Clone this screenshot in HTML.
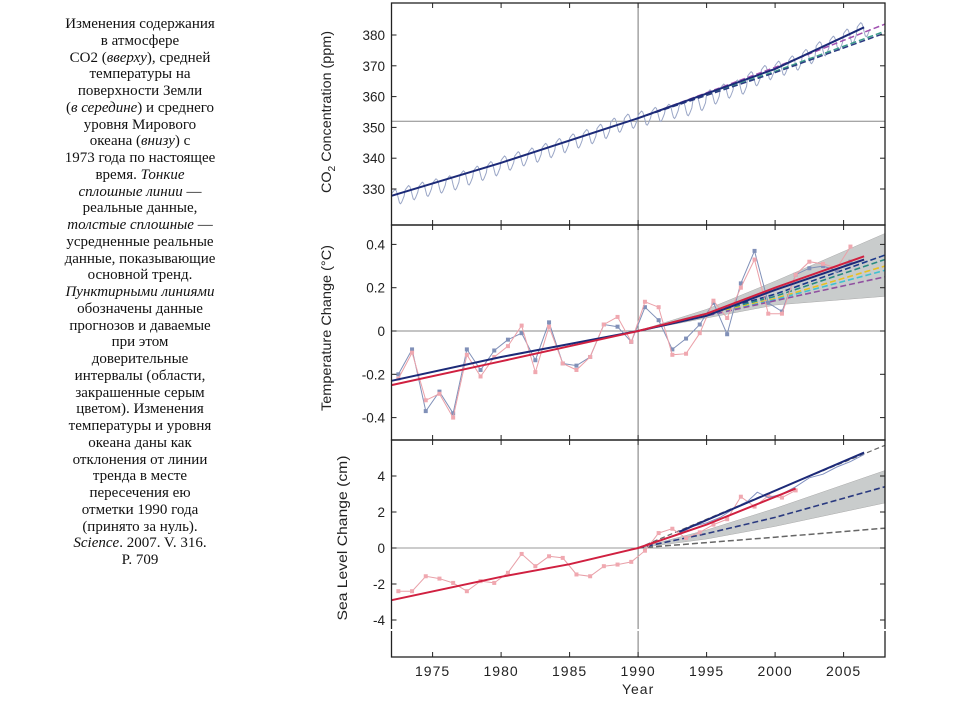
<!DOCTYPE html>
<html><head><meta charset="utf-8">
<style>
html,body{margin:0;padding:0;background:#fff;width:960px;height:720px;overflow:hidden}
#caption{position:absolute;left:30px;top:16px;width:220px;text-align:center;font-family:"Liberation Serif",serif;font-size:15px;line-height:16.75px;color:#111}
#chart{position:absolute;left:0;top:0}
</style></head><body>
<div id="caption">Изменения содержания<br>в атмосфере<br>CO2 (<i>вверху</i>), средней<br>температуры на<br>поверхности Земли<br>(<i>в середине</i>) и среднего<br>уровня Мирового<br>океана (<i>внизу</i>) с<br>1973 года по настоящее<br>время. <i>Тонкие</i><br><i>сплошные линии</i> —<br>реальные данные,<br><i>толстые сплошные</i> —<br>усредненные реальные<br>данные, показывающие<br>основной тренд.<br><i>Пунктирными линиями</i><br>обозначены данные<br>прогнозов и даваемые<br>при этом<br>доверительные<br>интервалы (области,<br>закрашенные серым<br>цветом). Изменения<br>температуры и уровня<br>океана даны как<br>отклонения от линии<br>тренда в месте<br>пересечения ею<br>отметки 1990 года<br>(принято за нуль).<br><i>Science</i>. 2007. V. 316.<br>P. 709</div>
<svg id="chart" width="960" height="720" xmlns="http://www.w3.org/2000/svg"></svg>
<script>
// ---------- data ----------
const xTickYears=[1975,1980,1985,1990,1995,2000,2005];
const co2Ticks=[330,340,350,360,370,380];
const tempTicks=[-0.4,-0.2,0,0.2,0.4];
const tempTickLabels=["-0.4","-0.2","0","0.2","0.4"];
const seaTicks=[-4,-2,0,2,4];
const co2Years=[1972,1973,1974,1975,1976,1977,1978,1979,1980,1981,1982,1983,1984,1985,1986,1987,1988,1989,1990,1991,1992,1993,1994,1995,1996,1997,1998,1999,2000,2001,2002,2003,2004,2005,2006];
const co2Annual=[327.5,328.8,329.9,331.0,332.0,333.6,335.1,336.6,338.4,339.8,341.0,342.5,344.1,345.6,347.0,348.7,350.7,352.0,353.0,354.2,355.2,356.1,357.8,359.9,361.8,363.1,365.8,367.8,369.2,370.9,373.0,375.5,377.3,379.6,381.7];
const co2Seasonal=[0.9,1.4,1.9,2.3,2.0,1.0,-0.6,-2.0,-2.3,-1.7,-0.8,0.2];
const co2TrendYears=[1972,1980,1990,2000,2006.5];
const co2Trend=[327.8,338.5,353,369,382.5];
const co2ProjYears=[1990,2000,2008];
const co2ProjA=[353,369.5,383.5];
const co2ProjB=[353,368.2,381.2];
const co2ProjC=[353,367.8,380.6];

const tempYears=[1972.5,1973.5,1974.5,1975.5,1976.5,1977.5,1978.5,1979.5,1980.5,1981.5,1982.5,1983.5,1984.5,1985.5,1986.5,1987.5,1988.5,1989.5,1990.5,1991.5,1992.5,1993.5,1994.5,1995.5,1996.5,1997.5,1998.5,1999.5,2000.5,2001.5,2002.5,2003.5,2004.5,2005.5];
const tempBlue=[-0.2,-0.085,-0.37,-0.28,-0.38,-0.085,-0.18,-0.09,-0.04,-0.01,-0.135,0.04,-0.15,-0.16,-0.12,0.03,0.02,-0.05,0.11,0.05,-0.085,-0.035,0.03,0.13,-0.015,0.22,0.37,0.13,0.09,0.26,0.29,0.3,0.28,0.32];
const tempPink=[-0.22,-0.1,-0.32,-0.29,-0.4,-0.11,-0.21,-0.12,-0.07,0.025,-0.19,0.02,-0.15,-0.18,-0.12,0.03,0.065,-0.05,0.135,0.11,-0.11,-0.105,-0.01,0.14,0.06,0.2,0.33,0.08,0.08,0.26,0.32,0.31,0.29,0.39];
const tempTrendYears=[1972,1980,1990,1995,2000,2006.5];
const tempTrendBlue=[-0.23,-0.12,0,0.07,0.19,0.33];
const tempTrendRed=[-0.25,-0.14,0,0.08,0.2,0.345];
const tempBandYears=[1990,1995,2000,2008];
const tempBandUpper=[0,0.1,0.23,0.45];
const tempBandLower=[0,0.06,0.12,0.16];
const tempProjYears=[1990,1995,2000,2008];
const tempProj1=[0,0.08,0.17,0.35];
const tempProj2=[0,0.08,0.16,0.33];
const tempProj3=[0,0.075,0.15,0.30];
const tempProj4=[0,0.07,0.145,0.28];
const tempProj5=[0,0.07,0.14,0.25];

const seaGaugeYears=[1972.5,1973.5,1974.5,1975.5,1976.5,1977.5,1978.5,1979.5,1980.5,1981.5,1982.5,1983.5,1984.5,1985.5,1986.5,1987.5,1988.5,1989.5,1990.5,1991.5,1992.5,1993.5,1994.5,1995.5,1996.5,1997.5,1998.5,1999.5,2000.5,2001.5];
const seaGauge=[-2.4,-2.4,-1.57,-1.7,-1.94,-2.4,-1.84,-1.94,-1.38,-0.33,-1.01,-0.46,-0.55,-1.47,-1.57,-1.01,-0.92,-0.77,-0.15,0.83,1.07,0.55,0.87,1.3,1.6,2.85,2.3,2.9,2.8,3.2];
const seaSatYears=[1993,1994,1995,1996,1997,1998,1998.7,1999.5,2000.5,2001.5,2002.5,2003.5,2004.5,2005.5,2006.5];
const seaSat=[0.8,1.2,1.4,1.7,2.2,2.6,3.1,2.8,3.0,3.4,3.9,4.1,4.5,4.8,5.2];
const seaTrendRedYears=[1972,1980,1985,1990,1995,2001.5];
const seaTrendRed=[-2.9,-1.6,-0.9,0,1.3,3.3];
const seaTrendBlueYears=[1993,2006.5];
const seaTrendBlue=[0.9,5.3];
const seaProjYears=[1990,1995,2000,2008];
const seaBandUpper=[0,1.0,2.2,4.3];
const seaBandLower=[0,0.5,1.2,2.5];
const seaProjMid=[0,0.8,1.7,3.4];
const seaProjLow=[0,0.3,0.6,1.1];
const seaProjHigh=[0,1.6,3.2,5.7];

// ---------- scales ----------
const L=391.5,R=885;
const X=y=>391.5+(y-1972)*13.7;
const Yc=v=>35+(380-v)*3.08;
const Yt=v=>331-v*216.5;
const Ys=v=>548-v*18;
const svg=document.getElementById('chart');
const NS='http://www.w3.org/2000/svg';
function mk(tag,attrs,parent){const e=document.createElementNS(NS,tag);for(const k in attrs)e.setAttribute(k,attrs[k]);(parent||svg).appendChild(e);return e;}
function pts(xs,vs,Y){return xs.map((x,i)=>X(x).toFixed(1)+','+Y(vs[i]).toFixed(1)).join(' ');}
function line(xs,vs,Y,st,name){const e=mk('polyline',{points:pts(xs,vs,Y),fill:'none',...st});

return e;}
function band(xs,up,lo,Y,name){const p=xs.map((x,i)=>X(x)+','+Y(up[i])).concat(xs.slice().reverse().map((x,i)=>X(x)+','+Y(lo[lo.length-1-i])));
const e=mk('polygon',{points:p.join(' '),fill:'#c9cccc',stroke:'#aaa','stroke-width':0.5});

}
function markers(xs,vs,Y,col,name){xs.forEach((x,i)=>{const r=mk('rect',{x:X(x)-2,y:Y(vs[i])-2,width:4,height:4,fill:col});

});}

const panels=[[3,225],[225,440],[440,657]];
mk('line',{x1:X(1990),y1:3,x2:X(1990),y2:657,stroke:'#777','stroke-width':1});
mk('line',{x1:L,y1:Yc(352),x2:R,y2:Yc(352),stroke:'#888','stroke-width':1});
mk('line',{x1:L,y1:Yt(0),x2:R,y2:Yt(0),stroke:'#888','stroke-width':1});
mk('line',{x1:L,y1:Ys(0),x2:R,y2:Ys(0),stroke:'#999','stroke-width':1});

// ---- CO2 ----
const mx=[],mv=[];
co2Years.forEach((yr,i)=>{co2Seasonal.forEach((s,m)=>{mx.push(yr+m/12);mv.push(co2Annual[i]+s);});});
line(mx,mv,Yc,{stroke:'#9aa6c6','stroke-width':1},'co2-monthly-line');
line(co2ProjYears,co2ProjA,Yc,{stroke:'#a050b0','stroke-width':1.5,'stroke-dasharray':'6,3'},'co2-projection-a');
line(co2ProjYears,co2ProjB,Yc,{stroke:'#3a9a8a','stroke-width':1.5,'stroke-dasharray':'6,3'},'co2-projection-b');
line(co2ProjYears,co2ProjC,Yc,{stroke:'#2a3a80','stroke-width':1.5,'stroke-dasharray':'6,3'},'co2-projection-c');
line(co2TrendYears,co2Trend,Yc,{stroke:'#1c2a78','stroke-width':2},'co2-trend-line');

// ---- Temperature ----
band(tempBandYears,tempBandUpper,tempBandLower,Yt,'temperature-confidence-band');
[[tempProj1,'#1c3a8a'],[tempProj2,'#2a8a80'],[tempProj3,'#e8c020'],[tempProj4,'#40c0d0'],[tempProj5,'#9050a0']].forEach((p,i)=>{
line(tempProjYears,p[0],Yt,{stroke:p[1],'stroke-width':1.6,'stroke-dasharray':'6,3'},'temperature-projection-'+(i+1));});
line(tempYears,tempBlue,Yt,{stroke:'#8090b8','stroke-width':1},'temperature-series-blue');
markers(tempYears,tempBlue,Yt,'#8090b8','temperature-point-blue');
line(tempYears,tempPink,Yt,{stroke:'#eba0a8','stroke-width':1},'temperature-series-pink');
markers(tempYears,tempPink,Yt,'#f0a8b0','temperature-point-pink');
line(tempTrendYears,tempTrendBlue,Yt,{stroke:'#1c2a78','stroke-width':2},'temperature-trend-blue');
line(tempTrendYears,tempTrendRed,Yt,{stroke:'#d02040','stroke-width':2},'temperature-trend-red');

// ---- Sea level ----
band(seaProjYears,seaBandUpper,seaBandLower,Ys,'sea-level-confidence-band');
line(seaProjYears,seaProjHigh,Ys,{stroke:'#666','stroke-width':1.2,'stroke-dasharray':'5,3'},'sea-projection-high');
line(seaProjYears,seaProjLow,Ys,{stroke:'#666','stroke-width':1.5,'stroke-dasharray':'6,3'},'sea-projection-low');
line(seaProjYears,seaProjMid,Ys,{stroke:'#2a3a80','stroke-width':1.6,'stroke-dasharray':'6,3'},'sea-projection-mid');
line(seaGaugeYears,seaGauge,Ys,{stroke:'#e8a0a8','stroke-width':1},'sea-gauge-series');
markers(seaGaugeYears,seaGauge,Ys,'#f0a8b0','sea-gauge-point');
line(seaSatYears,seaSat,Ys,{stroke:'#8090c0','stroke-width':1},'sea-satellite-series');
line(seaTrendRedYears,seaTrendRed,Ys,{stroke:'#d02040','stroke-width':2},'sea-trend-red');
line(seaTrendBlueYears,seaTrendBlue,Ys,{stroke:'#1c2a78','stroke-width':2},'sea-trend-blue');

// frames
panels.forEach(p=>{mk('rect',{x:L,y:p[0],width:R-L,height:p[1]-p[0],fill:'none',stroke:'#222','stroke-width':1.3});
xTickYears.forEach(yr=>{mk('line',{x1:X(yr),y1:p[0],x2:X(yr),y2:p[0]+5,stroke:'#222'});mk('line',{x1:X(yr),y1:p[1],x2:X(yr),y2:p[1]-5,stroke:'#222'});});});
mk('rect',{x:312,y:629,width:574,height:2,fill:'#fff'});

const lab={'font-family':'Liberation Sans, sans-serif','font-size':'13.5','fill':'#222','text-anchor':'end'};
function yt(ticks,labels,Y,name){ticks.forEach((t,i)=>{const y=Y(t);
mk('line',{x1:L,y1:y,x2:L+5,y2:y,stroke:'#222'});mk('line',{x1:R,y1:y,x2:R-5,y2:y,stroke:'#222'});
const e=mk('text',{...lab,x:385,y:y+5});e.textContent=labels[i];

});}
yt(co2Ticks,co2Ticks.map(String),Yc,'co2-tick-label');
yt(tempTicks,tempTickLabels,Yt,'temperature-tick-label');
yt(seaTicks,seaTicks.map(String),Ys,'sea-tick-label');
xTickYears.forEach(yr=>{const e=mk('text',{'font-family':'Liberation Sans, sans-serif','font-size':'14','fill':'#222','text-anchor':'middle','letter-spacing':'1',x:X(yr),y:676});e.textContent=yr;

});
const yl=mk('text',{'font-family':'Liberation Sans, sans-serif','font-size':'14','fill':'#222','text-anchor':'middle','letter-spacing':'1',x:X(1990),y:694});yl.textContent='Year';


function title(cx,cy,len,html,name){const e=mk('text',{'font-family':'Liberation Sans, sans-serif','font-size':'14','fill':'#222','text-anchor':'middle',transform:`translate(${cx},${cy}) rotate(-90)`,textLength:len,lengthAdjust:'spacingAndGlyphs'});e.innerHTML=html;

}
title(331,112,162,'CO<tspan font-size="10" dy="4">2</tspan><tspan dy="-4"> Concentration (ppm)</tspan>','co2-axis-title');
title(331,328,166,'Temperature Change (°C)','temperature-axis-title');
title(347,538,165,'Sea Level Change (cm)','sea-level-axis-title');
</script>
</body></html>
